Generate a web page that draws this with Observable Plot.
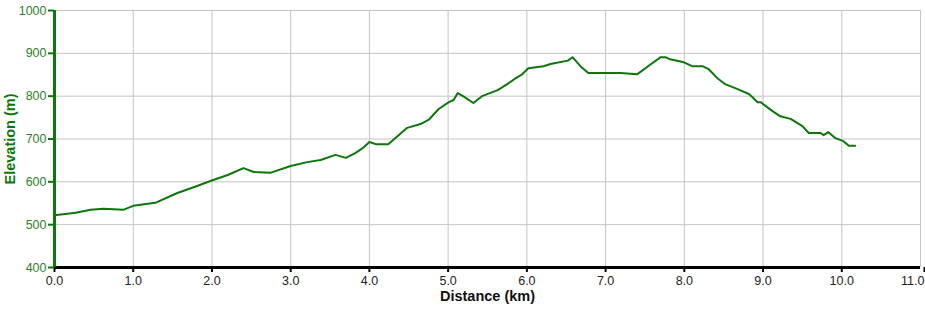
<!DOCTYPE html>
<html>
<head>
<meta charset="utf-8">
<script src="https://cdn.jsdelivr.net/npm/d3@7"></script>
<script src="https://cdn.jsdelivr.net/npm/@observablehq/plot@0.6"></script>
<style>
  html, body { margin: 0; padding: 0; background: #fff; }
  #chart svg { display: block; }
</style>
</head>
<body>
<div id="chart"></div>
<script>
const distanceKm = [0.0, 0.27, 0.46, 0.62, 0.88, 1.0, 1.28, 1.56, 1.82, 1.98, 2.2, 2.4, 2.53, 2.74, 3.0, 3.21, 3.38, 3.57, 3.7, 3.82, 3.91, 4.0, 4.08, 4.24, 4.48, 4.65, 4.76, 4.88, 5.01, 5.07, 5.12, 5.19, 5.32, 5.43, 5.63, 5.75, 5.86, 5.94, 6.02, 6.21, 6.3, 6.52, 6.58, 6.68, 6.78, 6.97, 7.19, 7.4, 7.57, 7.7, 7.76, 7.82, 7.98, 8.1, 8.23, 8.31, 8.42, 8.52, 8.67, 8.82, 8.88, 8.93, 8.97, 9.12, 9.22, 9.35, 9.5, 9.58, 9.73, 9.77, 9.83, 9.92, 10.02, 10.09, 10.17];
const elevationM = [522, 528, 535, 537, 535, 544, 551, 574, 591, 602, 616, 632, 623, 621, 637, 646, 651, 663, 656, 667, 678, 693, 688, 688, 726, 735, 746, 770, 786, 791, 807, 800, 784, 800, 814, 828, 842, 851, 865, 870, 875, 883, 891, 870, 854, 854, 854, 851, 874, 891, 891, 886, 880, 870, 870, 863, 842, 828, 817, 805, 795, 786, 786, 765, 753, 747, 730, 714, 714, 709, 716, 702, 695, 684, 684];
const xTicks = [0, 1, 2, 3, 4, 5, 6, 7, 8, 9, 10, 11];
const yTicks = [400, 500, 600, 700, 800, 900, 1000];

const data = distanceKm.map((d, i) => ({km: d, elev: elevationM[i]}));

const green = "#0d760d";
const labelGreen = "#2f7f2a";

const chart = Plot.plot({
  width: 925,
  height: 311,
  marginLeft: 54,
  marginRight: 5,
  marginTop: 10,
  marginBottom: 44,
  style: {fontFamily: "Arial, 'Liberation Sans', sans-serif", fontSize: "12px", background: "#fff"},
  x: {domain: [0, 11]},
  y: {domain: [400, 1000]},
  marks: [
    Plot.gridX(xTicks, {stroke: "#c4c4c4", strokeOpacity: 1}),
    Plot.gridY(yTicks, {stroke: "#c4c4c4", strokeOpacity: 1}),
    Plot.axisX(xTicks.slice(0, -1), {tickFormat: d => d.toFixed(1), tickSize: 5, tickPadding: 4, stroke: "#000", strokeWidth: 2, fill: "#222", fontSize: 12.5, label: null}),
    Plot.axisX(xTicks.slice(-1), {tickFormat: d => d.toFixed(1), tickSize: 5, tickPadding: 4, stroke: "#000", strokeWidth: 2, fill: "#222", fontSize: 12.5, textAnchor: "end", dx: 4, label: null}),
    Plot.axisY(yTicks, {tickFormat: d => String(d), tickSize: 6, tickPadding: 2, stroke: green, strokeWidth: 2, fill: labelGreen, fontSize: 12.5, label: null}),
    Plot.ruleY([400], {stroke: "#000", strokeWidth: 3}),
    Plot.ruleX([0], {stroke: green, strokeWidth: 3}),
    Plot.line(data, {x: "km", y: "elev", stroke: green, strokeWidth: 2}),
    Plot.text(["Distance (km)"], {frameAnchor: "bottom", dy: 33, fontWeight: "bold", fontSize: 14.5, fill: "#111"}),
    Plot.text(["Elevation (m)"], {frameAnchor: "left", textAnchor: "middle", dx: -44, rotate: -90, fontWeight: "bold", fontSize: 14.5, fill: green})
  ]
});
document.getElementById("chart").appendChild(chart);
</script>
</body>
</html>
